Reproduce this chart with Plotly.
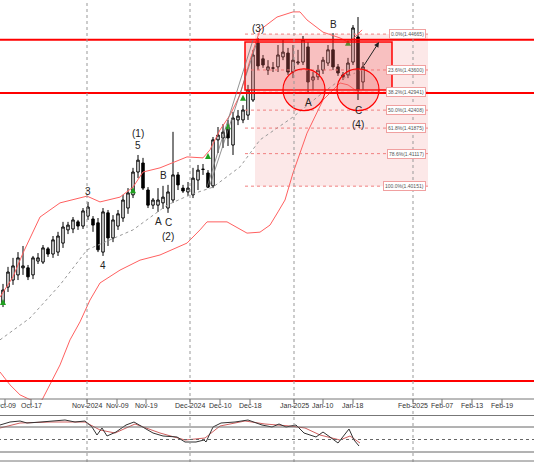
import plotly.graph_objects as go

# daily candles (bar index 0..72)
opens = [1.3652, 1.3701, 1.3723, 1.3739, 1.3761, 1.3761, 1.3739, 1.3782, 1.3779, 1.3820,
         1.3804, 1.3810, 1.3838, 1.3879, 1.3882, 1.3904, 1.3891, 1.3922, 1.3913, 1.3901,
         1.3810, 1.3932, 1.3854, 1.3891, 1.3916, 1.3947, 1.3988, 1.4059, 1.4087, 1.4003,
         1.3956, 1.3956, 1.3963, 1.3947, 1.3972, 1.4050, 1.4009, 1.3997, 1.3988, 1.4034,
         1.4068, 1.4056, 1.4016, 1.4159, 1.4165, 1.4196, 1.4143, 1.4221, 1.4221, 1.4236,
         1.4283, 1.4460, 1.4411, 1.4376, 1.4383, 1.4386, 1.4417, 1.4429, 1.4370, 1.4398,
         1.4401, 1.4448, 1.4345, 1.4355, 1.4376, 1.4398, 1.4439, 1.4386, 1.4361, 1.4361,
         1.4401, 1.4479, 1.4339]
closes = [1.3692, 1.3748, 1.3767, 1.3792, 1.3767, 1.3733, 1.3792, 1.3792, 1.3823, 1.3804,
          1.3848, 1.3860, 1.3888, 1.3894, 1.3910, 1.3891, 1.3938, 1.3950, 1.3894, 1.3817,
          1.3935, 1.3854, 1.3910, 1.3929, 1.3972, 1.3994, 1.4059, 1.4096, 1.4009, 1.3956,
          1.3972, 1.3972, 1.3981, 1.3997, 1.4050, 1.4019, 1.4000, 1.4009, 1.4040, 1.4065,
          1.4067, 1.4012, 1.4159, 1.4174, 1.4183, 1.4165, 1.4227, 1.4233, 1.4252, 1.4314,
          1.4423, 1.4389, 1.4392, 1.4386, 1.4382, 1.4423, 1.4432, 1.4370, 1.4407, 1.4401,
          1.4470, 1.4339, 1.4355, 1.4376, 1.4407, 1.4439, 1.4386, 1.4367, 1.4355, 1.4398,
          1.4507, 1.4314, 1.4386]
highs = [1.3711, 1.3764, 1.3792, 1.3810, 1.3829, 1.3770, 1.3798, 1.3807, 1.3832, 1.3826,
         1.3860, 1.3873, 1.3904, 1.3904, 1.3919, 1.3910, 1.3947, 1.3966, 1.3922, 1.3916,
         1.3947, 1.3941, 1.3925, 1.3941, 1.3988, 1.4009, 1.4072, 1.4112, 1.4103, 1.4012,
         1.3978, 1.4009, 1.4016, 1.4019, 1.4184, 1.4059, 1.4019, 1.4028, 1.4072, 1.4081,
         1.4084, 1.4065, 1.4168, 1.4199, 1.4208, 1.4221, 1.4246, 1.4252, 1.4267, 1.4330,
         1.4439, 1.4476, 1.4423, 1.4407, 1.4401, 1.4454, 1.4470, 1.4445, 1.4454, 1.4439,
         1.4482, 1.4463, 1.4370, 1.4392, 1.4417, 1.4454, 1.4491, 1.4395, 1.4370, 1.4414,
         1.4516, 1.4541, 1.4401]
lows = [1.3639, 1.3686, 1.3708, 1.3723, 1.3739, 1.3723, 1.3726, 1.3773, 1.3773, 1.3795,
        1.3792, 1.3798, 1.3823, 1.3866, 1.3869, 1.3879, 1.3882, 1.3910, 1.3873, 1.3810,
        1.3798, 1.3829, 1.3841, 1.3879, 1.3904, 1.3929, 1.3978, 1.4040, 1.4003, 1.3947,
        1.3944, 1.3935, 1.3944, 1.3932, 1.3963, 1.4003, 1.3994, 1.3984, 1.3978, 1.4003,
        1.4050, 1.4009, 1.4009, 1.4118, 1.4134, 1.4140, 1.4112, 1.4205, 1.4211, 1.4221,
        1.4277, 1.4376, 1.4383, 1.4361, 1.4370, 1.4370, 1.4407, 1.4361, 1.4351, 1.4392,
        1.4392, 1.4305, 1.4314, 1.4345, 1.4364, 1.4389, 1.4376, 1.4358, 1.4345, 1.4351,
        1.4392, 1.4283, 1.4314]
bars = list(range(len(opens)))

# Bollinger bands, sampled
upper_x = [-0.6, 2, 4, 7.4, 11.4, 16.8, 19.4, 23.4, 26, 28, 31.4, 36.8, 40, 41.4, 43.4,
           45.4, 47.4, 49.4, 51.4, 54.8, 58, 59.4, 60.8, 64, 67.4, 69, 70.4, 71.8]
upper_y = [1.3670, 1.3733, 1.3807, 1.3919, 1.3963, 1.3984, 1.3966, 1.3981, 1.4012, 1.4059,
           1.4072, 1.4106, 1.4103, 1.4128, 1.4190, 1.4236, 1.4299, 1.4407, 1.4501, 1.4541,
           1.4557, 1.4557, 1.4532, 1.4494, 1.4476, 1.4463, 1.4479, 1.4501]
lower_x = [-0.6, 1.4, 3.4, 6.4, 7.8, 9.4, 11.4, 13.4, 15.4, 17.4, 19.4, 23.4, 27.4, 31.4,
           36.8, 39.4, 40.8, 44.8, 48.8, 51.4, 53.4, 55, 56.4, 58, 60.8, 64, 67.4, 69, 71]
lower_y = [1.3437, 1.3397, 1.3366, 1.3344, 1.3350, 1.3397, 1.3459, 1.3537, 1.3593, 1.3661,
           1.3714, 1.3754, 1.3785, 1.3801, 1.3838, 1.3879, 1.3904, 1.3904, 1.3869, 1.3872,
           1.3894, 1.3935, 1.3972, 1.4056, 1.4180, 1.4283, 1.4336, 1.4330, 1.4308]
mid_x = [-0.6, 5.4, 11.4, 16.8, 21.4, 26, 32.8, 37.4, 42, 47.4, 51.4, 58, 63.4, 67.4, 70.4]
mid_y = [1.3537, 1.3605, 1.3708, 1.3817, 1.3848, 1.3879, 1.3956, 1.3988, 1.4012, 1.4075,
         1.4159, 1.4230, 1.4299, 1.4345, 1.4367]

# stochastic
stk_x = [-0.6, 1.4, 3.4, 4.8, 7.6, 12.4, 14.4, 16.4, 17.8, 18.8, 19.8, 20.8, 22.6, 24.6,
         26.2, 28, 30, 32, 34.8, 36.4, 38.6, 40.2, 40.6, 42, 43.6, 46.4, 49, 51.8, 53.8,
         55.2, 56.6, 58.6, 60.2, 62.6, 64, 65.4, 67, 69.2, 70.2, 71.2]
stk_y = [84.8, 92, 94.4, 89.6, 92, 96.8, 92, 94.4, 80, 60.8, 77.6, 58.4, 68, 84.8,
         92, 80, 65.6, 58.4, 56, 44, 44, 48.8, 44, 80, 89.6, 92, 96.8, 84.8, 80,
         87.2, 80, 84.8, 65.6, 56, 68, 56, 41.6, 75.2, 48.8, 34.4]
std_x = [-0.6, 3.4, 9.4, 16.4, 19.4, 22.4, 26.4, 31.4, 36.4, 40.4, 43.4, 48.4, 52.4,
         57.4, 60.4, 63.4, 67.4, 69.4, 71.4]
std_y = [77.6, 89.6, 92, 92, 72.8, 65.6, 87.2, 65.6, 48.8, 53.6, 82.4, 94.4, 87.2,
         82.4, 77.6, 60.8, 48.8, 58.4, 41.6]

# date labels
tick_pos = [0.4, 5.6, 16.8, 22.8, 28.6, 37.4, 43.4, 49.4, 58.2, 64, 70, 82, 87.8, 93.8, 99.8]
tick_text = ["Oct-09", "Oct-17", "Nov-2024", "Nov-09", "Nov-19", "Dec-2024", "Dec-10",
             "Dec-18", "Jan-2025", "Jan-10", "Jan-18", "Feb-2025", "Feb-07", "Feb-13", "Feb-19"]
month_lines = [16.8, 37.4, 58.2, 82]

# horizontal levels
levels = [1.4470, 1.4305, 1.3409]

# fibonacci retracement
fib_top, fib_bottom = 1.4488, 1.4015
fib_x0, fib_x1 = 50.4, 85
fib_pct = [0.0, 23.6, 38.2, 50.0, 61.8, 78.6, 100.0]
fib_price = ["1.44665", "1.43600", "1.42941", "1.42408", "1.41875", "1.41117", "1.40151"]

# wave labels: (text, bar, anchor at high/low, shift)
waves = [("3", 17, "h", 10), ("4", 20, "l", -10), ("5", 27, "h", 9), ("(1)", 27, "h", 21),
         ("B", 32, "h", 10), ("A", 31, "l", -10), ("C", 33, "l", -10), ("(2)", 33, "l", -24),
         ("(3)", 51, "h", 9), ("A", 61, "l", -10), ("B", 66, "h", 9), ("C", 71, "l", -10),
         ("(4)", 71, "l", -24)]

signal_bars = [0, 26, 41, 45, 48, 69]
signal_y = [1.3664, 1.4012, 1.4118, 1.4211, 1.4299, 1.4470]

RED = "#ff0000"
fig = go.Figure()

fig.add_trace(go.Scatter(x=upper_x, y=upper_y, mode="lines", line=dict(color="#ff6060", width=1)))
fig.add_trace(go.Scatter(x=lower_x, y=lower_y, mode="lines", line=dict(color="#ff6060", width=1)))
fig.add_trace(go.Scatter(x=mid_x, y=mid_y, mode="lines", line=dict(color="#999", width=1, dash="dot")))

fig.add_trace(go.Candlestick(
    x=bars, open=opens, high=highs, low=lows, close=closes,
    increasing=dict(line=dict(color="black", width=1), fillcolor="white"),
    decreasing=dict(line=dict(color="black", width=1), fillcolor="black"),
    whiskerwidth=0,
))
fig.add_trace(go.Scatter(x=signal_bars, y=signal_y, mode="markers",
                         marker=dict(symbol="arrow-up", size=6, color="#20a020")))

fig.add_trace(go.Scatter(x=std_x, y=std_y, mode="lines", line=dict(color="#d06060", width=1),
                         xaxis="x2", yaxis="y2"))
fig.add_trace(go.Scatter(x=stk_x, y=stk_y, mode="lines", line=dict(color="#333", width=1),
                         xaxis="x2", yaxis="y2"))

shapes = []
# fib zone
shapes.append(dict(type="rect", x0=fib_x0, x1=fib_x1, y0=fib_bottom, y1=fib_top,
                   fillcolor="rgba(240,150,150,0.22)", line=dict(width=0), layer="below"))
for p in fib_pct:
    y = fib_top - (fib_top - fib_bottom) * p / 100
    shapes.append(dict(type="line", x0=fib_x0 - 2, x1=fib_x1, y0=y, y1=y,
                       line=dict(color="#f08080", width=1, dash="dot")))
# consolidation box
shapes.append(dict(type="rect", x0=48.4, x1=77.8, y0=1.4314, y1=1.4463,
                   fillcolor="rgba(240,100,100,0.3)", line=dict(color=RED, width=1.5)))
# circles
for cx0, cx1 in [(56, 64.4), (66.8, 75.2)]:
    shapes.append(dict(type="circle", x0=cx0, x1=cx1, y0=1.4250, y1=1.4380,
                       fillcolor="rgba(240,100,100,0.2)", line=dict(color=RED, width=1.2)))
# horizontal red levels
for lv in levels:
    shapes.append(dict(type="line", xref="paper", x0=0, x1=1, y0=lv, y1=lv,
                       line=dict(color=RED, width=2)))
# trend lines
shapes.append(dict(type="line", x0=40.8, x1=50, y0=1.4012, y1=1.4470, line=dict(color="#777", width=0.8)))
shapes.append(dict(type="line", x0=41.4, x1=50.6, y0=1.4019, y1=1.4454, line=dict(color="#777", width=0.8)))
# month separators
for m in month_lines:
    shapes.append(dict(type="line", x0=m, x1=m, yref="paper", y0=0, y1=1,
                       line=dict(color="#999", width=1, dash="dot")))
# panel frame lines
for yp in [399, 415.5, 461]:
    shapes.append(dict(type="line", xref="paper", yref="paper", x0=0, x1=1,
                       y0=1 - yp / 462, y1=1 - yp / 462, line=dict(color="#777", width=1)))
for lvl, dash in [(80, "solid"), (50, "dot"), (20, "solid")]:
    shapes.append(dict(type="line", xref="x2", yref="y2", x0=-1, x1=107, y0=lvl, y1=lvl,
                       line=dict(color="#666", width=1, dash=dash)))
for t in tick_pos:
    shapes.append(dict(type="line", x0=t, x1=t, yref="paper", y0=1 - 404 / 462, y1=1 - 399 / 462,
                       line=dict(color="#777", width=1)))

ann = []
for t, txt in zip(tick_pos, tick_text):
    ann.append(dict(x=t, y=1 - 410.5 / 462, yref="paper", text=txt, showarrow=False,
                    font=dict(size=7, color="#333")))
for p, price in zip(fib_pct, fib_price):
    y = fib_top - (fib_top - fib_bottom) * p / 100
    ann.append(dict(x=fib_x1 - 0.4, y=y, text=f"{p:.1f}%({price})", showarrow=False, xanchor="right",
                    font=dict(size=5, color="#555"), bgcolor="white", bordercolor="#f0a0a0",
                    borderwidth=1, borderpad=1))
for txt, b, side, sh in waves:
    ann.append(dict(x=b, y=highs[b] if side == "h" else lows[b], text=txt, showarrow=False,
                    yshift=sh, font=dict(size=10, color="#222")))
ann.append(dict(x=75.2, y=1.4463, ax=72, ay=1.4386, xref="x", yref="y", axref="x", ayref="y",
                showarrow=True, arrowhead=2, arrowsize=1, arrowwidth=1, arrowcolor="#222", text=""))

fig.update_layout(
    width=534, height=462, margin=dict(l=0, r=0, t=0, b=0),
    paper_bgcolor="white", plot_bgcolor="white", showlegend=False,
    shapes=shapes, annotations=ann,
    xaxis=dict(range=[-0.6, 106.2], visible=False, rangeslider=dict(visible=False)),
    yaxis=dict(range=[1.3350, 1.4594], domain=[1 - 400 / 462, 1], visible=False),
    xaxis2=dict(range=[-0.6, 106.2], visible=False, anchor="y2"),
    yaxis2=dict(range=[-1.6, 106.4], domain=[1 - 461 / 462, 1 - 416 / 462], visible=False),
    font=dict(family="Liberation Sans"),
)

fig.write_html("out.html", config={"displayModeBar": False},
               post_script="document.body.style.margin='0';")
